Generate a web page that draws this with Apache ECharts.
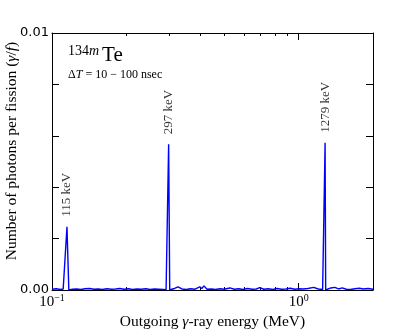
<!DOCTYPE html>
<html>
<head>
<meta charset="utf-8">
<script src="https://cdn.jsdelivr.net/npm/echarts@6/dist/echarts.min.js"></script>
<style>
  html, body { margin: 0; padding: 0; background: #fff; }
  #chart { width: 415px; height: 332px; }
</style>
</head>
<body>
<div id="chart"></div>
<script>
// 能量 (MeV) 和每次裂变的光子数
const energy = [
  0.100, 0.104, 0.108, 0.111, 0.113, 0.115, 0.117, 0.121, 0.126, 0.131,
  0.136, 0.142, 0.148, 0.154, 0.160, 0.167, 0.174, 0.181, 0.188, 0.196,
  0.204, 0.212, 0.221, 0.230, 0.240, 0.250, 0.260, 0.271, 0.282, 0.290,
  0.294, 0.297, 0.300, 0.306, 0.314, 0.324, 0.336, 0.350, 0.364, 0.380,
  0.397, 0.405, 0.413, 0.425, 0.442, 0.460, 0.479, 0.499, 0.526, 0.548,
  0.571, 0.595, 0.620, 0.646, 0.673, 0.695, 0.722, 0.752, 0.784, 0.817,
  0.851, 0.887, 0.924, 0.963, 1.003, 1.045, 1.089, 1.150, 1.200, 1.250,
  1.272, 1.279, 1.286, 1.310, 1.350, 1.400, 1.450, 1.500, 1.560, 1.620,
  1.690, 1.760, 1.830, 1.910, 2.000
]
const photons = [
  0.00003, 0.00005, 0.00002, 0.00004, 0.00000, 0.00246, 0.00000, 0.00003, 0.00004, 0.00002,
  0.00005, 0.00006, 0.00003, 0.00004, 0.00002, 0.00005, 0.00003, 0.00004, 0.00006, 0.00003,
  0.00005, 0.00002, 0.00004, 0.00003, 0.00005, 0.00002, 0.00004, 0.00003, 0.00002, 0.00001,
  0.00000, 0.00567, 0.00000, 0.00003, 0.00006, 0.00012, 0.00004, 0.00002, 0.00005, 0.00003,
  0.00012, 0.00006, 0.00016, 0.00003, 0.00004, 0.00002, 0.00005, 0.00003, 0.00008, 0.00003,
  0.00005, 0.00002, 0.00006, 0.00003, 0.00004, 0.00009, 0.00003, 0.00005, 0.00002, 0.00006,
  0.00003, 0.00004, 0.00007, 0.00003, 0.00005, 0.00004, 0.00006, 0.00010, 0.00004, 0.00002,
  0.00000, 0.00573, 0.00000, 0.00005, 0.00008, 0.00010, 0.00004, 0.00008, 0.00003, 0.00002,
  0.00005, 0.00007, 0.00004, 0.00006, 0.00003
]
// 峰值标注
const peakEnergy = [0.115, 0.297, 1.279]
const peakValue = [0.00246, 0.00567, 0.00573]
const peakLabels = ['115 keV', '297 keV', '1279 keV']
// 对数轴次刻度
const minorTicks = [0.2, 0.3, 0.4, 0.5, 0.6, 0.7, 0.8, 0.9, 2]

const serif = '"Liberation Serif", "DejaVu Serif", serif'

let myChart = echarts.init(document.getElementById('chart'))

const logAxis = (extra) => Object.assign({
  type: 'log',
  logBase: 10,
  min: 0.1,
  max: 2,
  splitLine: { show: false },
  axisLine: { show: true, lineStyle: { color: '#000', width: 1 } },
  axisLabel: { show: false }
}, extra)

myChart.setOption({
  animation: false,
  grid: { left: 52, right: 42, top: 33, bottom: 42, outerBoundsMode: 'none', containLabel: false },
  xAxis: [
    logAxis({
      position: 'bottom',
      axisTick: { inside: true, length: 7, lineStyle: { color: '#000' } },
      axisLabel: {
        show: true,
        margin: 3,
        formatter: function (v) {
          if (Math.abs(v - 0.1) < 1e-6) return '{n|10}{s|−1}'
          if (Math.abs(v - 1) < 1e-6) return '{n|10}{s|0}'
          return ''
        },
        rich: {
          n: { fontFamily: serif, fontSize: 15, color: '#000' },
          s: { fontFamily: serif, fontSize: 10, color: '#000', verticalAlign: 'top', padding: [0, 0, 8, 0] }
        }
      },
      name: 'Outgoing {i|γ}-ray energy (MeV)',
      nameLocation: 'middle',
      nameGap: 20,
      nameTextStyle: {
        fontFamily: serif, fontSize: 15.5, color: '#000',
        rich: { i: { fontFamily: serif, fontStyle: 'italic', fontSize: 15.5, color: '#000' } }
      }
    }),
    logAxis({
      position: 'bottom',
      axisLine: { show: false },
      axisTick: { show: true, inside: true, length: 3, customValues: minorTicks, lineStyle: { color: '#000' } }
    }),
    logAxis({
      position: 'top',
      axisTick: { inside: true, length: 7, lineStyle: { color: '#000' } }
    }),
    logAxis({
      position: 'top',
      axisLine: { show: false },
      axisTick: { show: true, inside: true, length: 3, customValues: minorTicks, lineStyle: { color: '#000' } }
    })
  ],
  yAxis: [
    {
      type: 'value',
      min: 0,
      max: 0.01,
      interval: 0.002,
      position: 'left',
      splitLine: { show: false },
      axisLine: { show: true, lineStyle: { color: '#000' } },
      axisTick: { inside: true, length: 7, lineStyle: { color: '#000' } },
      axisLabel: {
        margin: 3,
        fontFamily: '"DejaVu Sans", sans-serif',
        fontSize: 13,
        color: '#000',
        formatter: function (v) {
          if (Math.abs(v) < 1e-9) return '0.00'
          if (Math.abs(v - 0.01) < 1e-9) return '0.01'
          return ''
        }
      }
    },
    {
      type: 'value',
      min: 0,
      max: 0.01,
      interval: 0.002,
      position: 'right',
      splitLine: { show: false },
      axisLine: { show: true, lineStyle: { color: '#000' } },
      axisTick: { inside: true, length: 7, lineStyle: { color: '#000' } },
      axisLabel: { show: false }
    }
  ],
  graphic: [
    {
      // y轴名称
      type: 'text',
      x: 12,
      y: 151,
      rotation: Math.PI / 2,
      style: {
        text: 'Number of photons per fission ({i|γ}/{i|f})',
        fontFamily: serif,
        fontSize: 15.5,
        fill: '#000',
        align: 'center',
        verticalAlign: 'middle',
        rich: { i: { fontFamily: serif, fontStyle: 'italic', fontSize: 15.5, fill: '#000' } }
      }
    },
    {
      type: 'text',
      left: 68,
      top: 44,
      style: {
        text: '{s|134}{si|m}{b|Te}',
        rich: {
          s: { fontFamily: serif, fontSize: 14, fill: '#000', verticalAlign: 'top', padding: [0, 0, 8, 0] },
          si: { fontFamily: serif, fontSize: 14, fontStyle: 'italic', fill: '#000', verticalAlign: 'top', padding: [0, 3, 8, 0] },
          b: { fontFamily: serif, fontSize: 21, fill: '#000' }
        }
      }
    },
    {
      type: 'text',
      left: 68,
      top: 69,
      style: {
        text: 'Δ{i|T} = 10 − 100 nsec',
        fontFamily: serif,
        fontSize: 12,
        fill: '#000',
        rich: { i: { fontFamily: serif, fontSize: 12, fontStyle: 'italic', fill: '#000' } }
      }
    }
  ],
  series: [
    {
      type: 'line',
      xAxisIndex: 0,
      yAxisIndex: 0,
      data: energy.map((e, i) => [e, photons[i]]),
      symbol: 'none',
      lineStyle: { color: '#0000ff', width: 1.4 },
      z: 3
    },
    {
      type: 'scatter',
      xAxisIndex: 0,
      yAxisIndex: 0,
      symbolSize: 0,
      data: peakEnergy.map((e, i) => [e, peakValue[i]]),
      label: {
        show: true,
        position: 'top',
        distance: 10,
        rotate: 90,
        align: 'left',
        verticalAlign: 'middle',
        fontFamily: serif,
        fontSize: 13,
        color: '#000',
        formatter: (p) => peakLabels[p.dataIndex]
      }
    }
  ]
})
</script>
</body>
</html>
